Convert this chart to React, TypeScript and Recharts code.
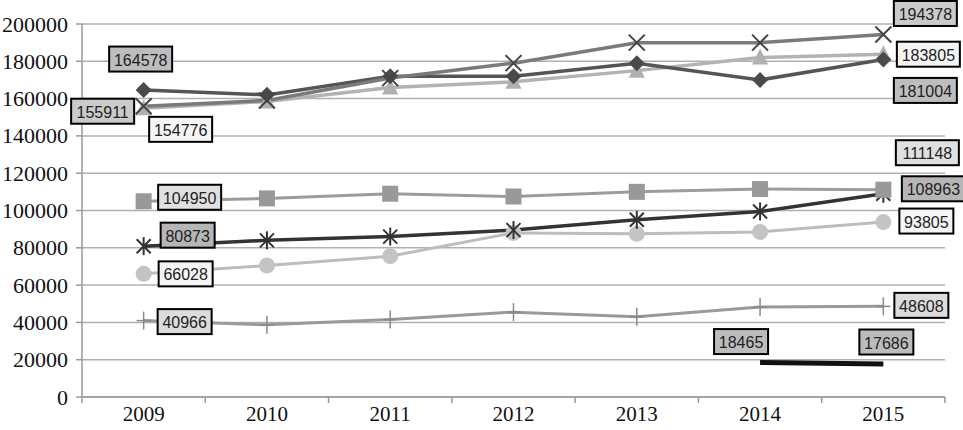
import { LineChart, Line, XAxis, YAxis, CartesianGrid, LabelList } from "recharts"

const years = ["2009", "2010", "2011", "2012", "2013", "2014", "2015"]
const diamondValues = [164578, 162000, 172000, 172000, 179000, 170000, 181004]
const crossValues = [155911, 159000, 171000, 179000, 190000, 190000, 194378]
const triangleValues = [154776, 158500, 166000, 169000, 175000, 182000, 183805]
const squareValues = [104950, 106500, 109000, 107500, 110000, 111500, 111148]
const starValues = [80873, 84000, 86000, 89500, 95000, 99500, 108963]
const circleValues = [66028, 70500, 75500, 88000, 87500, 88500, 93805]
const plusValues = [40966, 38700, 41500, 45500, 43000, 48200, 48608]
const blackValues = [null, null, null, null, null, 18465, 17686]
const yTicks = [0, 20000, 40000, 60000, 80000, 100000, 120000, 140000, 160000, 180000, 200000]

const data = years.map((year, i) => ({
    year,
    diamond: diamondValues[i],
    cross: crossValues[i],
    triangle: triangleValues[i],
    square: squareValues[i],
    star: starValues[i],
    circle: circleValues[i],
    plus: plusValues[i],
    black: blackValues[i],
}))

const W = 963
const H = 430
const LEFT = 82
const RIGHT = 18
const TOP = 24
const XH = 33
const halfBand = (W - LEFT - RIGHT) / years.length / 2
const serif = "'Liberation Serif', 'Times New Roman', serif"

// label box offsets from the point (dx, dy), only for labelled points
const labelOffsets: Record<string, Record<number, [number, number]>> = {
    diamond: { 0: [-3, -31], 6: [42, 31] },
    cross: { 0: [-41, 5], 6: [42, -21] },
    triangle: { 0: [37, 21], 6: [45, 0] },
    square: { 0: [46, -4], 6: [44, -37] },
    star: { 0: [44, -11], 6: [50, -5] },
    circle: { 0: [42, 0], 6: [43, -1] },
    plus: { 0: [41, 1], 6: [38, -1] },
    black: { 5: [-19, -21], 6: [3, -22] },
}

type SeriesDef = { key: string; color: string; width: number; marker: string | null; markerColor: string; labelFill: string }

const series: SeriesDef[] = [
    { key: "plus", color: "#9a9a9a", width: 3, marker: "plus", markerColor: "#8a8a8a", labelFill: "#dcdcdc" },
    { key: "circle", color: "#bdbdbd", width: 3, marker: "circle", markerColor: "#c4c4c4", labelFill: "#f5f5f5" },
    { key: "star", color: "#333333", width: 3.5, marker: "star", markerColor: "#333333", labelFill: "#b6b6b6" },
    { key: "square", color: "#9c9c9c", width: 3, marker: "square", markerColor: "#999999", labelFill: "#e0e0e0" },
    { key: "triangle", color: "#b3b3b3", width: 3.5, marker: "triangle", markerColor: "#b0b0b0", labelFill: "#f4f4f4" },
    { key: "diamond", color: "#555555", width: 3.5, marker: "diamond", markerColor: "#4a4a4a", labelFill: "#bdbdbd" },
    { key: "cross", color: "#7a7a7a", width: 3.5, marker: "cross", markerColor: "#444444", labelFill: "#cacaca" },
    { key: "black", color: "#111111", width: 5, marker: null, markerColor: "#111111", labelFill: "#bcbcbc" },
]

function Marker({ kind, cx, cy, color }: { kind: string; cx: number; cy: number; color: string }) {
    const s = 8
    switch (kind) {
        case "diamond":
            return <path d={`M${cx},${cy - s}L${cx + s},${cy}L${cx},${cy + s}L${cx - s},${cy}Z`} fill={color} />
        case "cross":
            return (
                <g stroke={color} strokeWidth={2}>
                    <line x1={cx - s} y1={cy - s} x2={cx + s} y2={cy + s} />
                    <line x1={cx - s} y1={cy + s} x2={cx + s} y2={cy - s} />
                </g>
            )
        case "triangle":
            return <path d={`M${cx},${cy - s - 1}L${cx + s},${cy + s - 1}L${cx - s},${cy + s - 1}Z`} fill={color} />
        case "square":
            return <rect x={cx - s} y={cy - s} width={s * 2} height={s * 2} fill={color} />
        case "star":
            return (
                <g stroke={color} strokeWidth={2}>
                    <line x1={cx - 7} y1={cy - 7} x2={cx + 7} y2={cy + 7} />
                    <line x1={cx - 7} y1={cy + 7} x2={cx + 7} y2={cy - 7} />
                    <line x1={cx} y1={cy - 9} x2={cx} y2={cy + 9} />
                </g>
            )
        case "circle":
            return <circle cx={cx} cy={cy} r={s} fill={color} />
        case "plus":
            return (
                <g stroke={color} strokeWidth={1.5}>
                    <line x1={cx} y1={cy - 9} x2={cx} y2={cy + 9} />
                    <line x1={cx - 7} y1={cy} x2={cx + 7} y2={cy} />
                </g>
            )
        default:
            return null
    }
}

function makeDot(s: SeriesDef) {
    return (props: any) => {
        const { cx, cy, index } = props
        if (cx == null || cy == null || !s.marker) return <g key={`${s.key}-dot-${index}`} />
        return (
            <g key={`${s.key}-dot-${index}`}>
                <Marker kind={s.marker} cx={cx} cy={cy} color={s.markerColor} />
            </g>
        )
    }
}

function makeLabel(s: SeriesDef) {
    return (props: any) => {
        const { x, y, value, index } = props
        const off = labelOffsets[s.key]?.[index]
        if (!off || value == null) return null
        const text = String(value)
        const w = text.length * 9 + 9
        const h = 25
        const cx = Number(x) + off[0]
        const cy = Number(y) + off[1]
        return (
            <g key={`${s.key}-label-${index}`}>
                <rect x={cx - w / 2} y={cy - h / 2} width={w} height={h} fill={s.labelFill} stroke="#000" strokeWidth={2} />
                <text x={cx} y={cy + 1} textAnchor="middle" dominantBaseline="central" fontFamily="Liberation Sans" fontSize={16} fill="#222">
                    {text}
                </text>
            </g>
        )
    }
}

function XTick(props: any) {
    const { x, y, payload, index } = props
    const last = index === years.length - 1
    return (
        <g>
            <line x1={x - halfBand} y1={y} x2={x - halfBand} y2={y + 6} stroke="#999" strokeWidth={1.5} />
            {last && <line x1={x + halfBand} y1={y} x2={x + halfBand} y2={y + 6} stroke="#999" strokeWidth={1.5} />}
            <text x={x} y={y + 24} textAnchor="middle" style={{ fontFamily: serif, fontSize: 21 }} fill="#111">
                {payload.value}
            </text>
        </g>
    )
}

function renderYTick(props: any) {
    const { x, y, payload } = props
    return (
        <text key={`y-${payload.value}`} x={x} y={y} textAnchor="end" dominantBaseline="central" style={{ fontFamily: serif, fontSize: 22 }} fill="#111">
            {payload.value}
        </text>
    )
}

export default function App() {
    return (
        <div style={{ position: "absolute", left: 0, top: 0, width: W, height: H, background: "#fff" }}>
            <LineChart width={W} height={H} data={data} margin={{ top: TOP, right: RIGHT, bottom: 0, left: 0 }}>
                <CartesianGrid vertical={false} stroke="#b0b0b0" strokeWidth={1.5} />
                <XAxis
                    dataKey="year"
                    height={XH}
                    padding={{ left: halfBand, right: halfBand }}
                    axisLine={{ stroke: "#999", strokeWidth: 1.5 }}
                    tickLine={false}
                    tickSize={0}
                    tickMargin={0}
                    tick={<XTick />}
                    interval={0}
                />
                <YAxis
                    width={LEFT}
                    domain={[0, 200000]}
                    ticks={yTicks}
                    interval={0}
                    axisLine={{ stroke: "#999", strokeWidth: 1.5 }}
                    tickLine={{ stroke: "#999", strokeWidth: 1.5 }}
                    tickSize={6}
                    tickMargin={8}
                    tick={renderYTick}
                />
                {series.map((s) => (
                    <Line
                        key={s.key}
                        dataKey={s.key}
                        type="linear"
                        stroke={s.color}
                        strokeWidth={s.width}
                        dot={makeDot(s)}
                        activeDot={false}
                        isAnimationActive={false}
                    >
                        <LabelList dataKey={s.key} content={makeLabel(s)} />
                    </Line>
                ))}
            </LineChart>
        </div>
    )
}
